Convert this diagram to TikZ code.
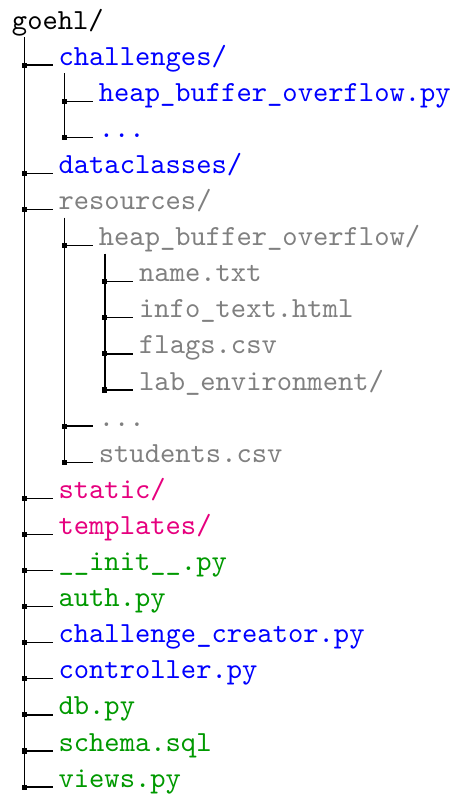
\documentclass[tikz,border=0pt]{standalone}
\usepackage{fontspec}
\definecolor{dirblue}{RGB}{0,0,255}
\definecolor{dirgray}{RGB}{128,128,128}
\definecolor{dirpink}{RGB}{230,0,126}
\definecolor{dirgreen}{RGB}{0,153,0}
\begin{document}
\begin{tikzpicture}[x=0.35pt,y=-0.35pt,
  font=\ttfamily\fontsize{10.2}{12}\selectfont,
  entry/.style={anchor=base west, inner sep=0pt, outer sep=0pt},
  twig/.style={line width=0.45pt, shorten >=2pt},
  trunk/.style={line width=0.45pt}]
\useasboundingbox (0,0) rectangle (452,794);

% tree entries, one row every 36.1 units
\node[entry] (root) at (12,29) {goehl/};
\node[entry,text=dirblue]  (challenges)  at (58.6,{29+36.1*1})  {challenges/};
\node[entry,text=dirblue]  (heapA)       at (98.9,{29+36.1*2})  {heap\_buffer\_overflow.py};
\node[entry,text=dirblue]  (dotsA)       at (98.9,{29+36.1*3})  {...};
\node[entry,text=dirblue]  (dataclasses) at (58.6,{29+36.1*4})  {dataclasses/};
\node[entry,text=dirgray]  (resources)   at (58.6,{29+36.1*5})  {resources/};
\node[entry,text=dirgray]  (heapdir)     at (98.9,{29+36.1*6})  {heap\_buffer\_overflow/};
\node[entry,text=dirgray]  (name)        at (139.2,{29+36.1*7}) {name.txt};
\node[entry,text=dirgray]  (info)        at (139.2,{29+36.1*8}) {info\_text.html};
\node[entry,text=dirgray]  (flags)       at (139.2,{29+36.1*9}) {flags.csv};
\node[entry,text=dirgray]  (lab)         at (139.2,{29+36.1*10}) {lab\_environment/};
\node[entry,text=dirgray]  (dotsB)       at (98.9,{29+36.1*11}) {...};
\node[entry,text=dirgray]  (students)    at (98.9,{29+36.1*12}) {students.csv};
\node[entry,text=dirpink]  (static)      at (58.6,{29+36.1*13}) {static/};
\node[entry,text=dirpink]  (templates)   at (58.6,{29+36.1*14}) {templates/};
\node[entry,text=dirgreen] (init)        at (58.6,{29+36.1*15}) {\_\_init\_\_.py};
\node[entry,text=dirgreen] (auth)        at (58.6,{29+36.1*16}) {auth.py};
\node[entry,text=dirblue]  (creator)     at (58.6,{29+36.1*17}) {challenge\_creator.py};
\node[entry,text=dirblue]  (controller)  at (58.6,{29+36.1*18}) {controller.py};
\node[entry,text=dirgreen] (db)          at (58.6,{29+36.1*19}) {db.py};
\node[entry,text=dirgreen] (schema)      at (58.6,{29+36.1*20}) {schema.sql};
\node[entry,text=dirgreen] (views)       at (58.6,{29+36.1*21}) {views.py};

% junction and twig for every entry below the root
\foreach \n in {challenges,heapA,dotsA,dataclasses,resources,heapdir,name,info,
                flags,lab,dotsB,students,static,templates,init,auth,creator,
                controller,db,schema,views} {
  \coordinate (j-\n) at ([xshift=-12pt]\n.base west);
  \draw[twig] (j-\n) -- (\n.base west);
}

% vertical trunks from each folder down to its last child
\draw[trunk] ([yshift=-2.8pt]root.base -| j-challenges) -- (j-views);
\draw[trunk] ([yshift=-2.8pt]challenges.base -| j-heapA) -- (j-dotsA);
\draw[trunk] ([yshift=-2.8pt]resources.base -| j-heapdir) -- (j-students);
\draw[trunk] ([yshift=-2.8pt]heapdir.base -| j-name) -- (j-lab);

% square dots on the junctions
\foreach \n in {challenges,heapA,dotsA,dataclasses,resources,heapdir,name,info,
                flags,lab,dotsB,students,static,templates,init,auth,creator,
                controller,db,schema,views} {
  \fill ([xshift=-0.9pt,yshift=-0.9pt]j-\n) rectangle ([xshift=0.9pt,yshift=0.9pt]j-\n);
}
\end{tikzpicture}
\end{document}
